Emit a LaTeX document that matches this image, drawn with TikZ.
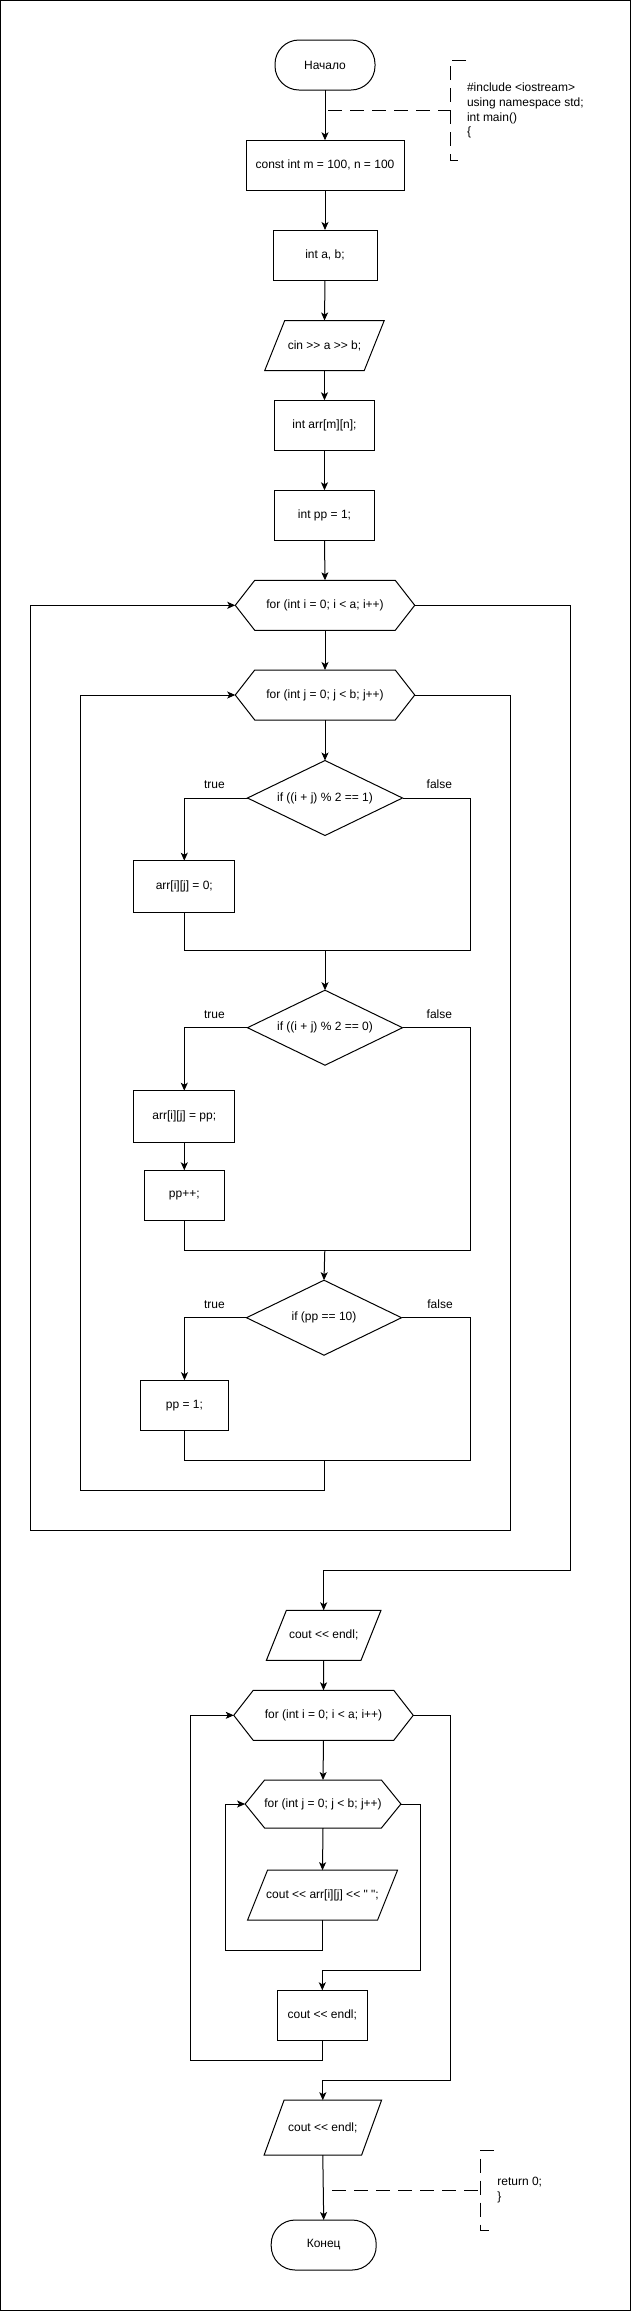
\documentclass[tikz,border=0pt]{standalone}
\usepackage{fontspec}
\setmainfont{Liberation Sans}[Ligatures=TeXOff]
\usetikzlibrary{shapes.geometric,arrows.meta,calc}
\newcommand\hexdraw[2]{\draw (#1.west) -- ([xshift=#2]#1.north west) -- ([xshift=-#2]#1.north east) -- (#1.east) -- ([xshift=-#2]#1.south east) -- ([xshift=#2]#1.south west) -- cycle;}
\newcommand\iodraw[2]{\draw ([xshift=#2]#1.north west) -- ([xshift=#2]#1.north east) -- ([xshift=-#2]#1.south east) -- ([xshift=-#2]#1.south west) -- cycle;}
\newcommand\diadraw[1]{\draw (#1.north) -- (#1.east) -- (#1.south) -- (#1.west) -- cycle;}
\begin{document}
\begin{tikzpicture}[x=1pt,y=-1pt, line width=1pt,
 base/.style={font=\fontsize{12}{14.7}\selectfont, inner sep=0pt, outer sep=0pt},
 proc/.style={base, draw, rectangle, minimum height=50pt},
 term/.style={base, draw, rectangle, rounded corners=24pt, minimum width=100pt, minimum height=50pt},
 plain/.style={base, rectangle, minimum height=50pt},
 dia/.style={base, rectangle, minimum width=155pt, minimum height=75pt},
 lbl/.style={base},
 flow/.style={-{Stealth[length=8pt,width=7pt,inset=2pt]}},
 ann/.style={dash pattern=on 14pt off 8pt}
]
\useasboundingbox (0,0) rectangle (631,2311);
\draw (0.5,0.5) rectangle (630.5,2310.5);

% nodes
\node[term] (start) at (325,65) {Начало};
\node[proc, minimum width=158pt] (n1) at (325,165.3) {const int m = 100, n = 100};
\node[proc, minimum width=104pt] (n2) at (325,255) {int a, b;};
\node[plain, minimum width=99.5pt] (cin) at (324.5,345.5) {cin >> a >> b;};
\iodraw{cin}{10pt}
\node[proc, minimum width=100pt] (narr) at (324.5,425.3) {int arr[m][n];};
\node[proc, minimum width=100pt] (npp) at (324.5,515.3) {int pp = 1;};
\node[plain, minimum width=179.5pt] (fori) at (325,605.3) {for (int i = 0; i < a; i++)};
\hexdraw{fori}{19.5pt}
\node[plain, minimum width=179.5pt] (forj) at (325,695) {for (int j = 0; j < b; j++)};
\hexdraw{forj}{19.5pt}
\node[dia] (if1) at (325,798) {if ((i + j) \% 2 == 1)};
\diadraw{if1}
\node[proc, minimum width=101pt, minimum height=52pt] (a0) at (184.3,886.7) {arr[i][j] = 0;};
\node[dia] (if2) at (325,1027.7) {if ((i + j) \% 2 == 0)};
\diadraw{if2}
\node[proc, minimum width=101pt, minimum height=52pt] (app) at (184.3,1116.7) {arr[i][j] = pp;};
\node[proc, minimum width=80.5pt] (ppinc) at (184.3,1195.3) {pp++;};
\node[dia] (if3) at (324,1317.7) {if (pp == 10)};
\diadraw{if3}
\node[proc, minimum width=88pt] (pp1) at (184.5,1405.2) {pp = 1;};
\node[plain, minimum width=94.6pt] (cout1) at (323.7,1635.3) {cout << endl;};
\iodraw{cout1}{10pt}
\node[plain, minimum width=179.5pt] (fori2) at (323.5,1715.3) {for (int i = 0; i < a; i++)};
\hexdraw{fori2}{19.5pt}
\node[plain, minimum width=155.8pt, minimum height=48pt] (forj2) at (323,1804) {for (int j = 0; j < b; j++)};
\hexdraw{forj2}{19.5pt}
\node[plain, minimum width=130pt] (coutarr) at (322.5,1895.2) {cout << arr[i][j] << " ";};
\iodraw{coutarr}{10pt}
\node[proc, minimum width=90pt] (cout2) at (322.3,2015.3) {cout << endl;};
\node[plain, minimum width=97.5pt, minimum height=55pt] (cout3) at (322.8,2127.7) {cout << endl;};
\iodraw{cout3}{10pt}
\node[term, minimum width=105pt] (end) at (323.7,2245) {Конец};

% labels
\node[lbl] (t1) at (214.5,784.3) {true};
\node[lbl] (f1) at (439.4,784.3) {false};
\node[lbl] (t2) at (214.5,1014.3) {true};
\node[lbl] (f2) at (439.4,1014.3) {false};
\node[lbl] (t3) at (214.5,1304.3) {true};
\node[lbl] (f3) at (440,1304.3) {false};

% merge points
\coordinate (m1) at (325,950);
\coordinate (m2) at (324.8,1250.3);
\coordinate (m3) at (324.8,1460.3);

% straight flow
\draw[flow] (start.south) -- (n1.north);
\draw[flow] (n1.south) -- (n2.north);
\draw[flow] (n2.south) -- (cin.north);
\draw[flow] (cin.south) -- (narr.north);
\draw[flow] (narr.south) -- (npp.north);
\draw[flow] (npp.south) -- (fori.north);
\draw[flow] (fori.south) -- (forj.north);
\draw[flow] (forj.south) -- (if1.north);

% if1
\draw[flow] (if1.west) -| (a0.north);
\draw (a0.south) |- (m1);
\draw (if1.east) -| (470,950) -- (m1);
\draw[flow] (m1) -- (if2.north);

% if2
\draw[flow] (if2.west) -| (app.north);
\draw[flow] (app.south) -- (ppinc.north);
\draw (ppinc.south) |- (m2);
\draw (if2.east) -| (470,1250.3) -- (m2);
\draw[flow] (m2) -- (if3.north);

% if3
\draw[flow] (if3.west) -| (pp1.north);
\draw (pp1.south) |- (m3);
\draw (if3.east) -| (470,1460.3) -- (m3);

% loops (first part)
\draw[flow] (m3) -- (324.8,1490.3) -| (80.5,695) -- (forj.west);
\draw[flow] (forj.east) -- (510.3,695) |- (30.6,1530) |- (fori.west);
\draw[flow] (fori.east) -| (570,1570.3) -| (cout1.north);

% second part
\draw[flow] (cout1.south) -- (fori2.north);
\draw[flow] (fori2.south) -- (forj2.north);
\draw[flow] (forj2.south) -- (coutarr.north);
\draw[flow] (coutarr.south) |- (225.4,1950) |- (forj2.west);
\draw[flow] (forj2.east) -| (420.5,1970.3) -| (cout2.north);
\draw[flow] (cout2.south) |- (190.3,2060) |- (fori2.west);
\draw[flow] (fori2.east) -| (450.3,2080) -| (cout3.north);
\draw[flow] (cout3.south) -- (end.north);

% annotations
\coordinate (c1) at (328,110);
\draw[ann] (c1) -- (450,110);
\draw[ann] (466,60.3) -- (450,60.3) -- (450,160.3) -- (466,160.3);
\node[base, align=left, anchor=west] (note1) at (467,110.7) {\#include <iostream>\\using namespace std;\\int main()\\\{};

\coordinate (c2) at (332.4,2190);
\draw[ann] (c2) -- (480.5,2190);
\draw[ann] (494,2150) -- (480.5,2150) -- (480.5,2230) -- (494,2230);
\node[base, align=left, anchor=west] (note2) at (497.4,2190) {return 0;\\\}};
\end{tikzpicture}
\end{document}
